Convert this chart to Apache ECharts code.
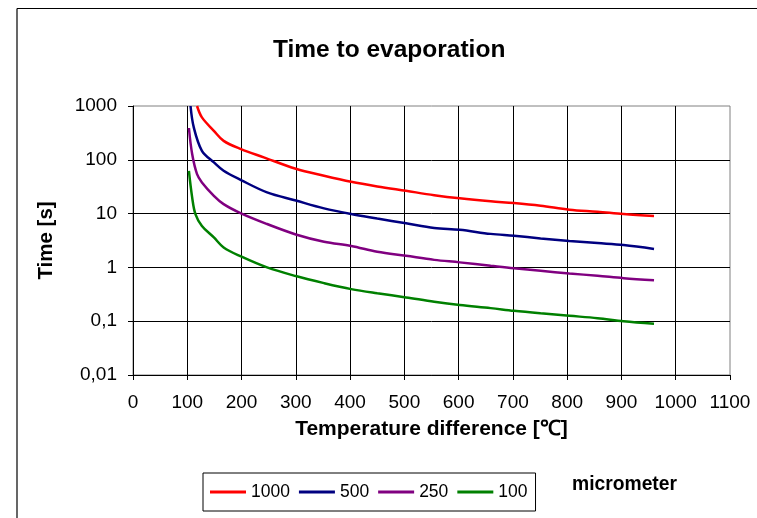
<!DOCTYPE html>
<html>
<head>
<meta charset="utf-8">
<script src="https://cdn.jsdelivr.net/npm/echarts@6/dist/echarts.min.js"></script>
<style>
  html, body { margin: 0; padding: 0; background: #fff; }
  #chart { width: 757px; height: 518px; }
</style>
</head>
<body>
<div id="chart"></div>
<script>
const FONT = 'Arial, "Liberation Sans", sans-serif'

// droplet size (micrometer) -> temperature difference / time to evaporation
const seriesNames = ['1000', '500', '250', '100']
const seriesColors = ['#ff0000', '#000080', '#800080', '#008000']

const tRed = [118, 127, 149, 167, 199, 241, 300, 352, 402, 450, 503, 555, 602, 659, 702, 751, 804, 856, 904, 960]
const vRed = [1000, 614, 346, 225, 158, 111, 68, 50.5, 39, 32, 26.5, 22, 19.2, 16.9, 15.7, 14, 11.8, 10.8, 9.8, 9.0]

const tBlue = [106, 112, 127, 149, 167, 199, 247, 300, 352, 402, 450, 503, 555, 602, 659, 702, 751, 804, 856, 904, 960]
const vBlue = [1000, 400, 147, 89.5, 62.5, 42, 24.8, 17.5, 12.5, 9.8, 8.1, 6.6, 5.4, 5.0, 4.2, 3.87, 3.46, 3.1, 2.83, 2.6, 2.2]

const tPurple = [103, 109, 118, 127, 149, 167, 199, 247, 300, 352, 402, 450, 503, 555, 602, 659, 702, 751, 804, 856, 904, 960]
const vPurple = [390, 128, 54, 38, 21.4, 15, 10.1, 6.4, 4.1, 3.0, 2.5, 1.95, 1.64, 1.38, 1.24, 1.07, 0.96, 0.865, 0.77, 0.70, 0.63, 0.58]

const tGreen = [103, 109, 115, 127, 149, 167, 199, 247, 300, 352, 402, 450, 503, 555, 602, 659, 702, 751, 804, 856, 904, 960]
const vGreen = [62, 20, 9.8, 5.9, 3.6, 2.35, 1.6, 1.0, 0.69, 0.51, 0.395, 0.33, 0.277, 0.23, 0.20, 0.175, 0.156, 0.14, 0.126, 0.114, 0.1, 0.09]

const yTicks = [0.01, 0.1, 1, 10, 100, 1000]
const yTickLabels = ['0,01', '0,1', '1', '10', '100', '1000']

const temps = [tRed, tBlue, tPurple, tGreen]
const values = [vRed, vBlue, vPurple, vGreen]

function yLabel(v) {
  const lg = Math.log10(v)
  let best = 0
  yTicks.forEach((t, i) => {
    if (Math.abs(Math.log10(t) - lg) < Math.abs(Math.log10(yTicks[best]) - lg)) best = i
  })
  return yTickLabels[best]
}

const chart = echarts.init(document.getElementById('chart'))
chart.setOption({
  animation: false,
  backgroundColor: '#fff',
  title: {
    text: 'Time to evaporation',
    left: 273,
    top: 38,
    padding: 0,
    textStyle: { fontFamily: FONT, fontSize: 24.5, fontWeight: 'bold', color: '#000' },
  },
  grid: {
    left: 133, top: 106, right: 27, bottom: 143,
    show: true, borderColor: '#808080', borderWidth: 1, backgroundColor: '#fff',
  },
  legend: {
    left: 203,
    top: 473,
    orient: 'horizontal',
    icon: 'rect',
    itemWidth: 36,
    itemHeight: 3,
    itemGap: 9,
    padding: [10, 8, 10, 7],
    borderColor: '#000',
    borderWidth: 1,
    textStyle: { fontFamily: FONT, fontSize: 17.5, color: '#000' },
    data: seriesNames,
  },
  xAxis: {
    type: 'value',
    min: 0,
    max: 1100,
    interval: 100,
    name: 'Temperature difference [℃]',
    nameLocation: 'middle',
    nameGap: 44,
    nameTextStyle: { fontFamily: FONT, fontSize: 21, fontWeight: 'bold', color: '#000' },
    axisLine: { show: true, lineStyle: { color: '#000', width: 1 } },
    axisTick: { show: true, inside: false, length: 5, lineStyle: { color: '#000' } },
    axisLabel: { fontFamily: FONT, fontSize: 19, color: '#000', margin: 18, formatter: v => String(v) },
    splitLine: { show: true, showMaxLine: false, lineStyle: { color: '#000', width: 1 } },
  },
  yAxis: {
    type: 'log',
    logBase: 10,
    min: 0.01,
    max: 1000,
    name: 'Time [s]',
    nameLocation: 'middle',
    nameGap: 76,
    nameTextStyle: { fontFamily: FONT, fontSize: 20.5, fontWeight: 'bold', color: '#000' },
    axisLine: { show: true, lineStyle: { color: '#000', width: 1 } },
    axisTick: { show: true, inside: false, length: 5, lineStyle: { color: '#000' } },
    axisLabel: { fontFamily: FONT, fontSize: 19, color: '#000', margin: 16, formatter: yLabel },
    splitLine: { show: true, showMaxLine: false, lineStyle: { color: '#000', width: 1 } },
  },
  graphic: [
    // outer chart-area frame (top and left edges visible)
    { type: 'line', shape: { x1: 17, y1: 8.5, x2: 757, y2: 8.5 }, style: { stroke: '#000', lineWidth: 1.2 } },
    { type: 'line', shape: { x1: 17, y1: 8.5, x2: 17, y2: 518 }, style: { stroke: '#000', lineWidth: 1.2 } },
    {
      type: 'text', left: 572, top: 475,
      style: { text: 'micrometer', fontFamily: FONT, fontSize: 19.3, fontWeight: 'bold', fill: '#000' },
    },
  ],
  series: seriesNames.map((name, i) => ({
    name,
    type: 'line',
    data: temps[i].map((t, j) => [t, values[i][j]]),
    showSymbol: false,
    symbol: 'none',
    smooth: 0.35,
    clip: true,
    color: seriesColors[i],
    lineStyle: { color: seriesColors[i], width: 2.5 },
  })),
})
</script>
</body>
</html>
